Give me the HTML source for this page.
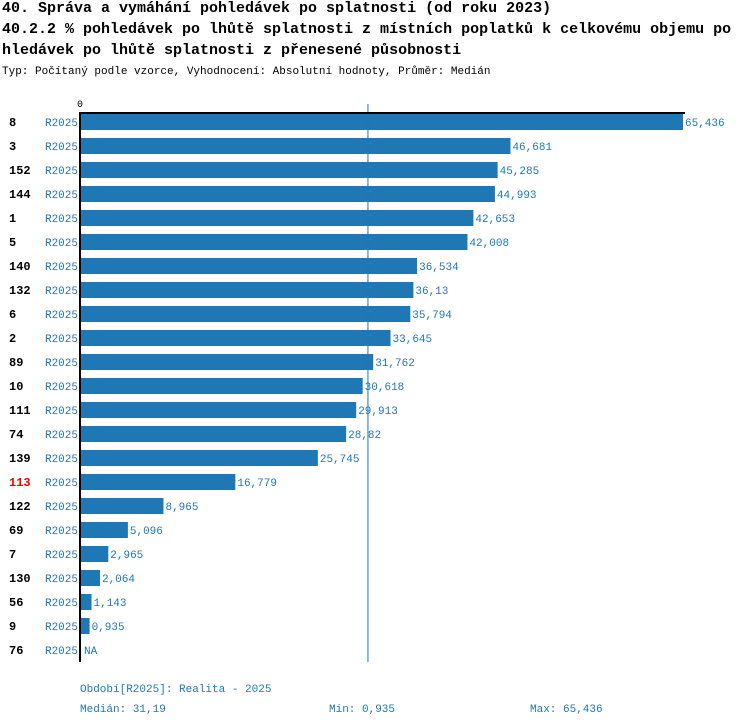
<!DOCTYPE html>
<html><head><meta charset="utf-8">
<style>
body{margin:0;background:#fff;width:750px;height:726px;overflow:hidden;font-family:"Liberation Mono","DejaVu Sans Mono",monospace;}
.t{position:absolute;left:2px;font-weight:bold;font-size:15px;color:#000;white-space:nowrap;}
.s{position:absolute;left:2px;top:66px;font-size:11px;color:#000;white-space:nowrap;}
</style></head><body>
<div class="t" style="top:0px">40. Správa a vymáhání pohledávek po splatnosti (od roku 2023)</div>
<div class="t" style="top:21px">40.2.2 % pohledávek po lhůtě splatnosti z místních poplatků k celkovému objemu po</div>
<div class="t" style="top:42px">hledávek po lhůtě splatnosti z přenesené působnosti</div>
<div class="s">Typ: Počítaný podle vzorce, Vyhodnocení: Absolutní hodnoty, Průměr: Medián</div>
<svg id="c" width="750" height="726" style="position:absolute;left:0;top:0"></svg>
<script>
const categories=["8","3","152","144","1","5","140","132","6","2","89","10","111","74","139","113","122","69","7","130","56","9","76"];
const values=[65.436,46.681,45.285,44.993,42.653,42.008,36.534,36.13,35.794,33.645,31.762,30.618,29.913,28.82,25.745,16.779,8.965,5.096,2.965,2.064,1.143,0.935,null];
const labels=["65,436","46,681","45,285","44,993","42,653","42,008","36,534","36,13","35,794","33,645","31,762","30,618","29,913","28,82","25,745","16,779","8,965","5,096","2,965","2,064","1,143","0,935","NA"];
const highlight="113";
const median=31.19;
const maxV=65.436;
const svg=document.getElementById('c');
const NS='http://www.w3.org/2000/svg';
const x0=81, xw=602, y0=114, step=24, bh=16;
const xs=v=>x0+v/maxV*xw;
function mk(tag,attrs,text){const e=document.createElementNS(NS,tag);for(const k in attrs)e.setAttribute(k,attrs[k]);if(text!==undefined)e.textContent=text;svg.appendChild(e);return e;}
const F='"Liberation Mono","DejaVu Sans Mono",monospace';
categories.forEach((c,i)=>{
  const yc=y0+i*step+bh/2;
  const l=mk('text',{x:9,y:yc+4,'font-size':12,'font-weight':'bold','font-family':F,fill:c===highlight?'#e00':'#000'},c);
  
  
  const p=mk('text',{x:78,y:yc+4,'font-size':11,'font-family':F,fill:'#1f77b4','text-anchor':'end'},'R2025');
  
  
  let end=x0+3;
  if(values[i]!==null){
    const b=mk('rect',{x:x0,y:y0+i*step,width:xs(values[i])-x0,height:bh,fill:'#1f77b4'});
    
    
    end=xs(values[i])+2;
  }
  const v=mk('text',{x:end,y:yc+4,'font-size':11,'font-family':F,fill:'#1f77b4'},labels[i]);
  
  
});
const yEnd=y0+categories.length*step-4;
const m=mk('line',{x1:xs(median),x2:xs(median),y1:104,y2:yEnd,stroke:'#1f77b4','stroke-width':1});


const ax=mk('line',{x1:80,x2:80,y1:112,y2:yEnd,stroke:'#000','stroke-width':2});


const tx=mk('line',{x1:79,x2:685,y1:113,y2:113,stroke:'#000','stroke-width':2});


const z=mk('text',{x:80,y:107,'font-size':10,'font-family':F,fill:'#000','text-anchor':'middle'},'0');


const f1=mk('text',{x:80,y:692,'font-size':11,'font-family':F,fill:'#1f77b4'},'Období[R2025]: Realita - 2025');


const f2=mk('text',{x:80,y:712,'font-size':11,'font-family':F,fill:'#1f77b4'},'Medián: 31,19');


const f3=mk('text',{x:329,y:712,'font-size':11,'font-family':F,fill:'#1f77b4'},'Min: 0,935');


const f4=mk('text',{x:530,y:712,'font-size':11,'font-family':F,fill:'#1f77b4'},'Max: 65,436');


</script>
</body></html>
